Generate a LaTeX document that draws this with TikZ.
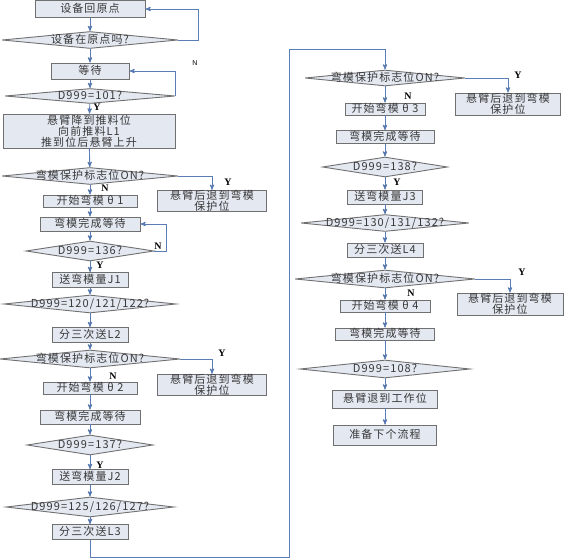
\documentclass[tikz,border=0pt]{standalone}
\usepackage{fontspec}
\newfontfamily\cjk[LetterSpace=10]{Noto Sans CJK SC}
\newfontfamily\ynfont{Liberation Serif}
\newfontfamily\nfont{Liberation Sans}
\usetikzlibrary{shapes.geometric}
\usetikzlibrary{arrows}
\definecolor{boxfill}{HTML}{E3E8F1}
\definecolor{boxline}{HTML}{707070}
\definecolor{flowline}{HTML}{5B7DB5}
\definecolor{txt}{HTML}{383838}
\newcommand{\qtext}[1]{\makebox[0pt][c]{#1}}
\tikzset{
    proc/.style={
           rectangle,
           draw=boxline, line width=0.9pt,
           fill=boxfill,
           inner sep=0pt,
           text height=8.5pt, text depth=2pt,
           font=\cjk\fontsize{11}{11}\selectfont,
           text=txt,
           },
    proclines/.style={
           proc,
           text height={}, text depth={},
           align=center,
           },
    cond/.style={
           diamond, aspect=1,
           draw=boxline, line width=0.9pt,
           fill=boxfill,
           inner sep=0pt,
           text height=8.5pt, text depth=2pt,
           font=\cjk\fontsize{11}{11}\selectfont,
           text=txt,
           },
    flow/.style={->, draw=flowline, line width=0.9pt},
    yn/.style={font=\ynfont\bfseries\fontsize{10}{10}\selectfont, inner sep=0pt},
}
\begin{document}
\begin{tikzpicture}[x=1pt,y=-1pt,>=stealth']
    \useasboundingbox (0,0) rectangle (565,559);
    % left column
    \node[proc,minimum width=110pt,minimum height=17pt] (home)   at (90,9)    {设备回原点};
    \node[cond,minimum width=176pt,minimum height=17pt] (atHome) at (90,40)   {\qtext{设备在原点吗?}};
    \node[proc,minimum width=78pt,minimum height=16pt]  (wait0)  at (90,71)   {等待};
    \node[cond,minimum width=170pt,minimum height=15pt] (d101)   at (90,96)   {\qtext{D999=101?}};
    \node[proclines,minimum width=172pt,minimum height=34pt,font=\cjk\fontsize{11}{11}\selectfont] (push) at (89,131)
        {悬臂降到推料位\\向前推料L1\\推到位后悬臂上升};
    \node[cond,minimum width=176pt,minimum height=17pt] (prot1)  at (90,176)  {\qtext{弯模保护标志位ON?}};
    \node[proclines,minimum width=109pt,minimum height=21pt] (guard1) at (212,201) {悬臂后退到弯模\\保护位};
    \node[proc,minimum width=94pt,minimum height=12pt]  (bend1)  at (90,201)  {开始弯模 θ 1};
    \node[proc,minimum width=100pt,minimum height=14pt] (wait1)  at (90,224)  {弯模完成等待};
    \node[cond,minimum width=128pt,minimum height=20pt] (d136)   at (90,251)  {\qtext{D999=136?}};
    \node[proc,minimum width=76pt,minimum height=15pt]  (J1)     at (90,280)  {送弯模量J1};
    \node[cond,minimum width=172pt,minimum height=18pt] (d120)   at (90,304)  {\qtext{D999=120/121/122?}};
    \node[proc,minimum width=76pt,minimum height=15pt]  (L2)     at (90,335)  {分三次送L2};
    \node[cond,minimum width=180pt,minimum height=18pt] (prot2)  at (90,359)  {\qtext{弯模保护标志位ON?}};
    \node[proclines,minimum width=109pt,minimum height=21pt] (guard2) at (212,385) {悬臂后退到弯模\\保护位};
    \node[proc,minimum width=94pt,minimum height=12pt]  (bend2)  at (90,388)  {开始弯模 θ 2};
    \node[proc,minimum width=100pt,minimum height=14pt] (wait2)  at (90,417)  {弯模完成等待};
    \node[cond,minimum width=126pt,minimum height=20pt] (d137)   at (90,445)  {\qtext{D999=137?}};
    \node[proc,minimum width=76pt,minimum height=15pt]  (J2)     at (90,477)  {送弯模量J2};
    \node[cond,minimum width=168pt,minimum height=20pt] (d125)   at (90,507)  {\qtext{D999=125/126/127?}};
    \node[proc,minimum width=76pt,minimum height=15pt]  (L3)     at (90,532)  {分三次送L3};
    % right column
    \node[cond,minimum width=160pt,minimum height=16pt] (prot3)  at (385,78)  {\qtext{弯模保护标志位ON?}};
    \node[proclines,minimum width=105pt,minimum height=22pt] (guard3) at (508,104) {悬臂后退到弯模\\保护位};
    \node[proc,minimum width=80pt,minimum height=12pt]  (bend3)  at (385,109) {开始弯模 θ 3};
    \node[proc,minimum width=98pt,minimum height=13pt]  (wait3)  at (385,137) {弯模完成等待};
    \node[cond,minimum width=125pt,minimum height=20pt] (d138)   at (385,167) {\qtext{D999=138?}};
    \node[proc,minimum width=75pt,minimum height=14pt]  (J3)     at (385,197) {送弯模量J3};
    \node[cond,minimum width=168pt,minimum height=17pt] (d130)   at (385,223) {\qtext{D999=130/131/132?}};
    \node[proc,minimum width=76pt,minimum height=14pt]  (L4)     at (385,250) {分三次送L4};
    \node[cond,minimum width=180pt,minimum height=18pt] (prot4)  at (385,279) {\qtext{弯模保护标志位ON?}};
    \node[proclines,minimum width=106pt,minimum height=22pt] (guard4) at (510,304) {悬臂后退到弯模\\保护位};
    \node[proc,minimum width=90pt,minimum height=12pt]  (bend4)  at (385,306) {开始弯模 θ 4};
    \node[proc,minimum width=99pt,minimum height=12pt]  (wait4)  at (385,334) {弯模完成等待};
    \node[cond,minimum width=170pt,minimum height=18pt] (d108)   at (385,369) {\qtext{D999=108?}};
    \node[proc,minimum width=105pt,minimum height=18pt] (back)   at (385,399) {悬臂退到工作位};
    \node[proc,minimum width=103pt,minimum height=20pt] (next)   at (385,435) {准备下个流程};
    % Y/N labels
    \node[yn] (y1) at (97,107)  {Y};
    \node[font=\nfont\fontsize{7}{7}\selectfont,inner sep=0pt] (n1) at (195,63) {N};
    \node[yn] (y2) at (228,182) {Y};
    \node[yn] (n2) at (105,188) {N};
    \node[yn] (n3) at (158,246) {N};
    \node[yn] (y3) at (100,265) {Y};
    \node[yn] (y4) at (222,353) {Y};
    \node[yn] (n4) at (113,376) {N};
    \node[yn] (y5) at (100,465) {Y};
    \node[yn] (y6) at (518,75)  {Y};
    \node[yn] (n5) at (408,96)  {N};
    \node[yn] (y7) at (397,182) {Y};
    \node[yn] (y8) at (522,272) {Y};
    \node[yn] (n6) at (411,293) {N};
    % straight flow
    \path[flow]
    (home) edge (atHome)
    (atHome) edge (wait0)
    (wait0) edge (d101)
    (d101) edge (push)
    (push) edge (prot1)
    (prot1) edge (bend1)
    (bend1) edge (wait1)
    (wait1) edge (d136)
    (d136) edge (J1)
    (J1) edge (d120)
    (d120) edge (L2)
    (L2) edge (prot2)
    (prot2) edge (bend2)
    (bend2) edge (wait2)
    (wait2) edge (d137)
    (d137) edge (J2)
    (J2) edge (d125)
    (d125) edge (L3)
    (prot3) edge (bend3)
    (bend3) edge (wait3)
    (wait3) edge (d138)
    (d138) edge (J3)
    (J3) edge (d130)
    (d130) edge (L4)
    (L4) edge (prot4)
    (prot4) edge (bend4)
    (bend4) edge (wait4)
    (wait4) edge (d108)
    (d108) edge (back)
    (back) edge (next);
    % loops and side branches
    \draw[flow] (atHome.east) -- ++(20,0) |- (home.east);
    \draw[flow] (d101.east) |- (wait0.east);
    \draw[flow] (d136.east) -- ++(12,0) |- (wait1.east);
    \draw[flow] (prot1.east) -| (guard1);
    \draw[flow] (prot2.east) -| (guard2);
    \draw[flow] (prot3.east) -| (guard3);
    \draw[flow] (prot4.east) -| (guard4);
    \coordinate (lowturn) at (289,557);
    \coordinate (topturn) at (289,49);
    \draw[flow] (L3) |- (lowturn) -- (topturn) -| (prot3);
\end{tikzpicture}
\end{document}
